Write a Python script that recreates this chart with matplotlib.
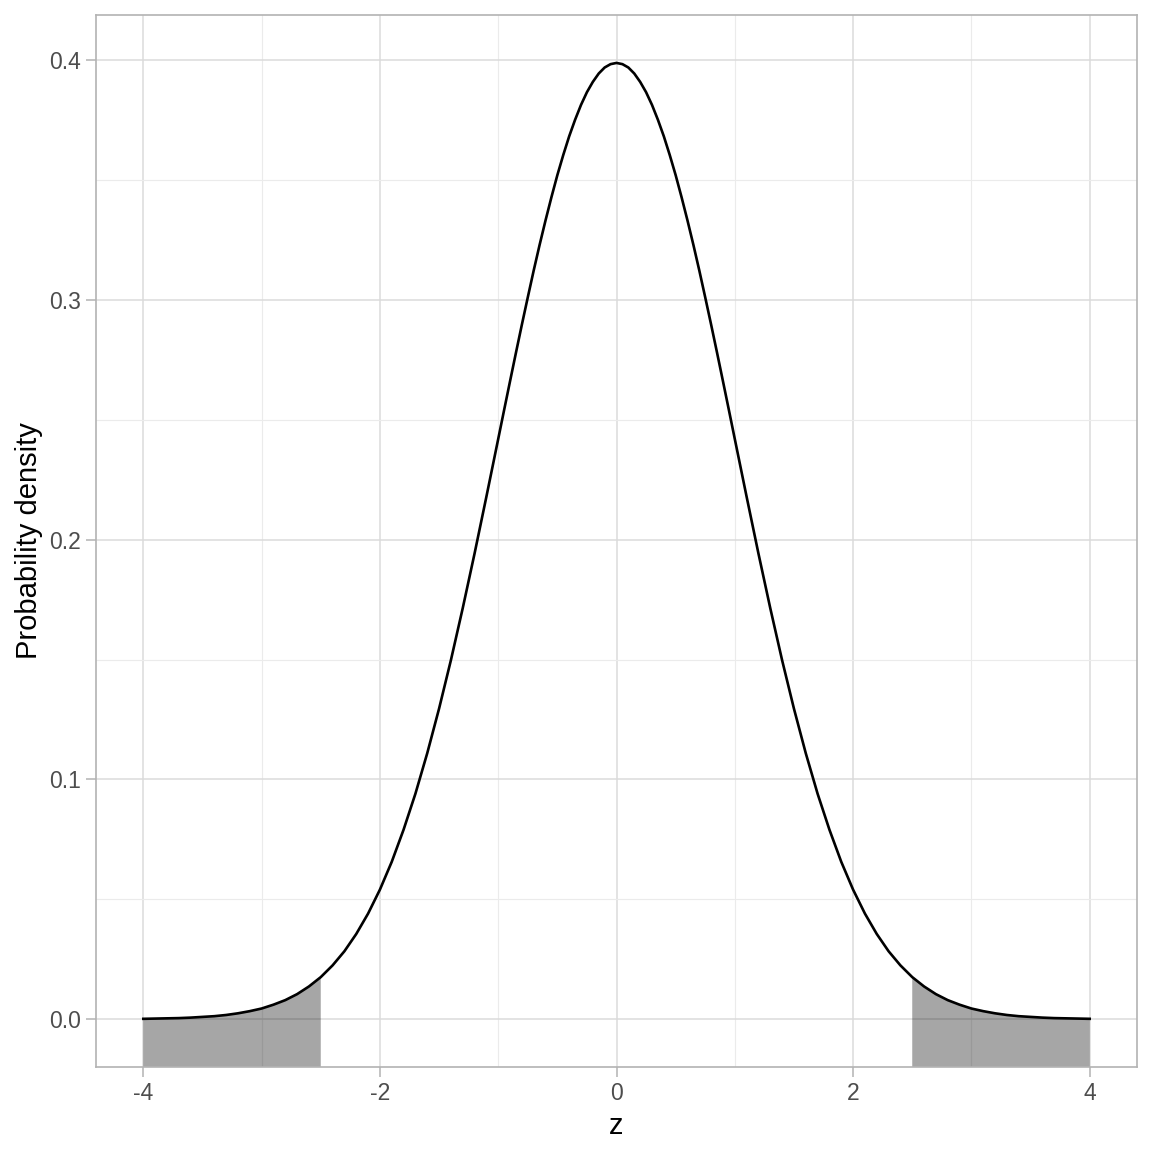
import matplotlib.pyplot as plt
from matplotlib.ticker import MultipleLocator

plt.rcParams['font.family'] = ['Liberation Sans', 'DejaVu Sans']
plt.rcParams['axes.unicode_minus'] = False

# Densita', lato positivo (la curva e' simmetrica)
z_pos = [0.0, 0.05, 0.1, 0.15, 0.2, 0.25, 0.3, 0.35, 0.4, 0.45, 0.5, 0.55, 0.6, 0.65,
         0.7, 0.75, 0.8, 0.85, 0.9, 0.95, 1.0, 1.1, 1.2, 1.3, 1.4, 1.5, 1.6, 1.7, 1.8,
         1.9, 2.0, 2.1, 2.2, 2.3, 2.4, 2.5, 2.6, 2.7, 2.8, 2.9, 3.0, 3.1, 3.2, 3.3,
         3.4, 3.5, 3.6, 3.7, 3.8, 3.9, 4.0]
dens_pos = [0.3989, 0.3984, 0.3970, 0.3945, 0.3910, 0.3867, 0.3814, 0.3752, 0.3683,
            0.3605, 0.3521, 0.3429, 0.3332, 0.3230, 0.3123, 0.3011, 0.2897, 0.2780,
            0.2661, 0.2541, 0.2420, 0.2179, 0.1942, 0.1714, 0.1497, 0.1295, 0.1109,
            0.0940, 0.0790, 0.0656, 0.0540, 0.0440, 0.0355, 0.0283, 0.0224, 0.0175,
            0.0136, 0.0104, 0.0079, 0.0060, 0.0044, 0.0033, 0.0024, 0.0017, 0.0012,
            0.0009, 0.0006, 0.0004, 0.0003, 0.0002, 0.0001]

z = [-a for a in z_pos[::-1]] + z_pos[1:]
density = dens_pos[::-1] + dens_pos[1:]

# code critiche
cutoff = 2.5
x_ticks = [-4, -2, 0, 2, 4]
y_ticks = [0.0, 0.1, 0.2, 0.3, 0.4]

fig = plt.figure(figsize=(11.52, 11.52), dpi=100)
ax = fig.add_axes([96 / 1152, 85 / 1152, (1137 - 96) / 1152, (1067 - 15) / 1152])

ax.set_xlim(-4.4, 4.4)
ax.set_ylim(-0.02, 0.4189)

# griglia stile theme_light
ax.set_xticks(x_ticks)
ax.set_xticklabels([str(v) for v in x_ticks])
ax.set_yticks(y_ticks)
ax.set_yticklabels([f'{v:.1f}' for v in y_ticks])
ax.xaxis.set_minor_locator(MultipleLocator(1))
ax.yaxis.set_minor_locator(MultipleLocator(0.05))
ax.grid(which='major', color='#DBDBDB', linewidth=1.1)
ax.grid(which='minor', color='#EBEBEB', linewidth=0.8)
ax.set_axisbelow(True)

for s in ax.spines.values():
    s.set_color('#B3B3B3')
    s.set_linewidth(1.2)

ax.tick_params(which='major', length=7, width=1.1, color='#B3B3B3',
               labelsize=16.5, labelcolor='#4D4D4D', pad=4)
ax.tick_params(which='minor', length=0)

# code ombreggiate
left_z = [a for a in z if a <= -cutoff]
left_d = [d for a, d in zip(z, density) if a <= -cutoff]
right_z = [a for a in z if a >= cutoff]
right_d = [d for a, d in zip(z, density) if a >= cutoff]
ax.fill_between(left_z, -1, left_d, color='black', alpha=0.35, linewidth=0)
ax.fill_between(right_z, -1, right_d, color='black', alpha=0.35, linewidth=0)

ax.plot(z, density, color='black', linewidth=1.9)

ax.set_xlabel('z', fontsize=21, labelpad=5)
ax.set_ylabel('Probability density', fontsize=21, labelpad=4)

fig.savefig('out.png', dpi=100)
